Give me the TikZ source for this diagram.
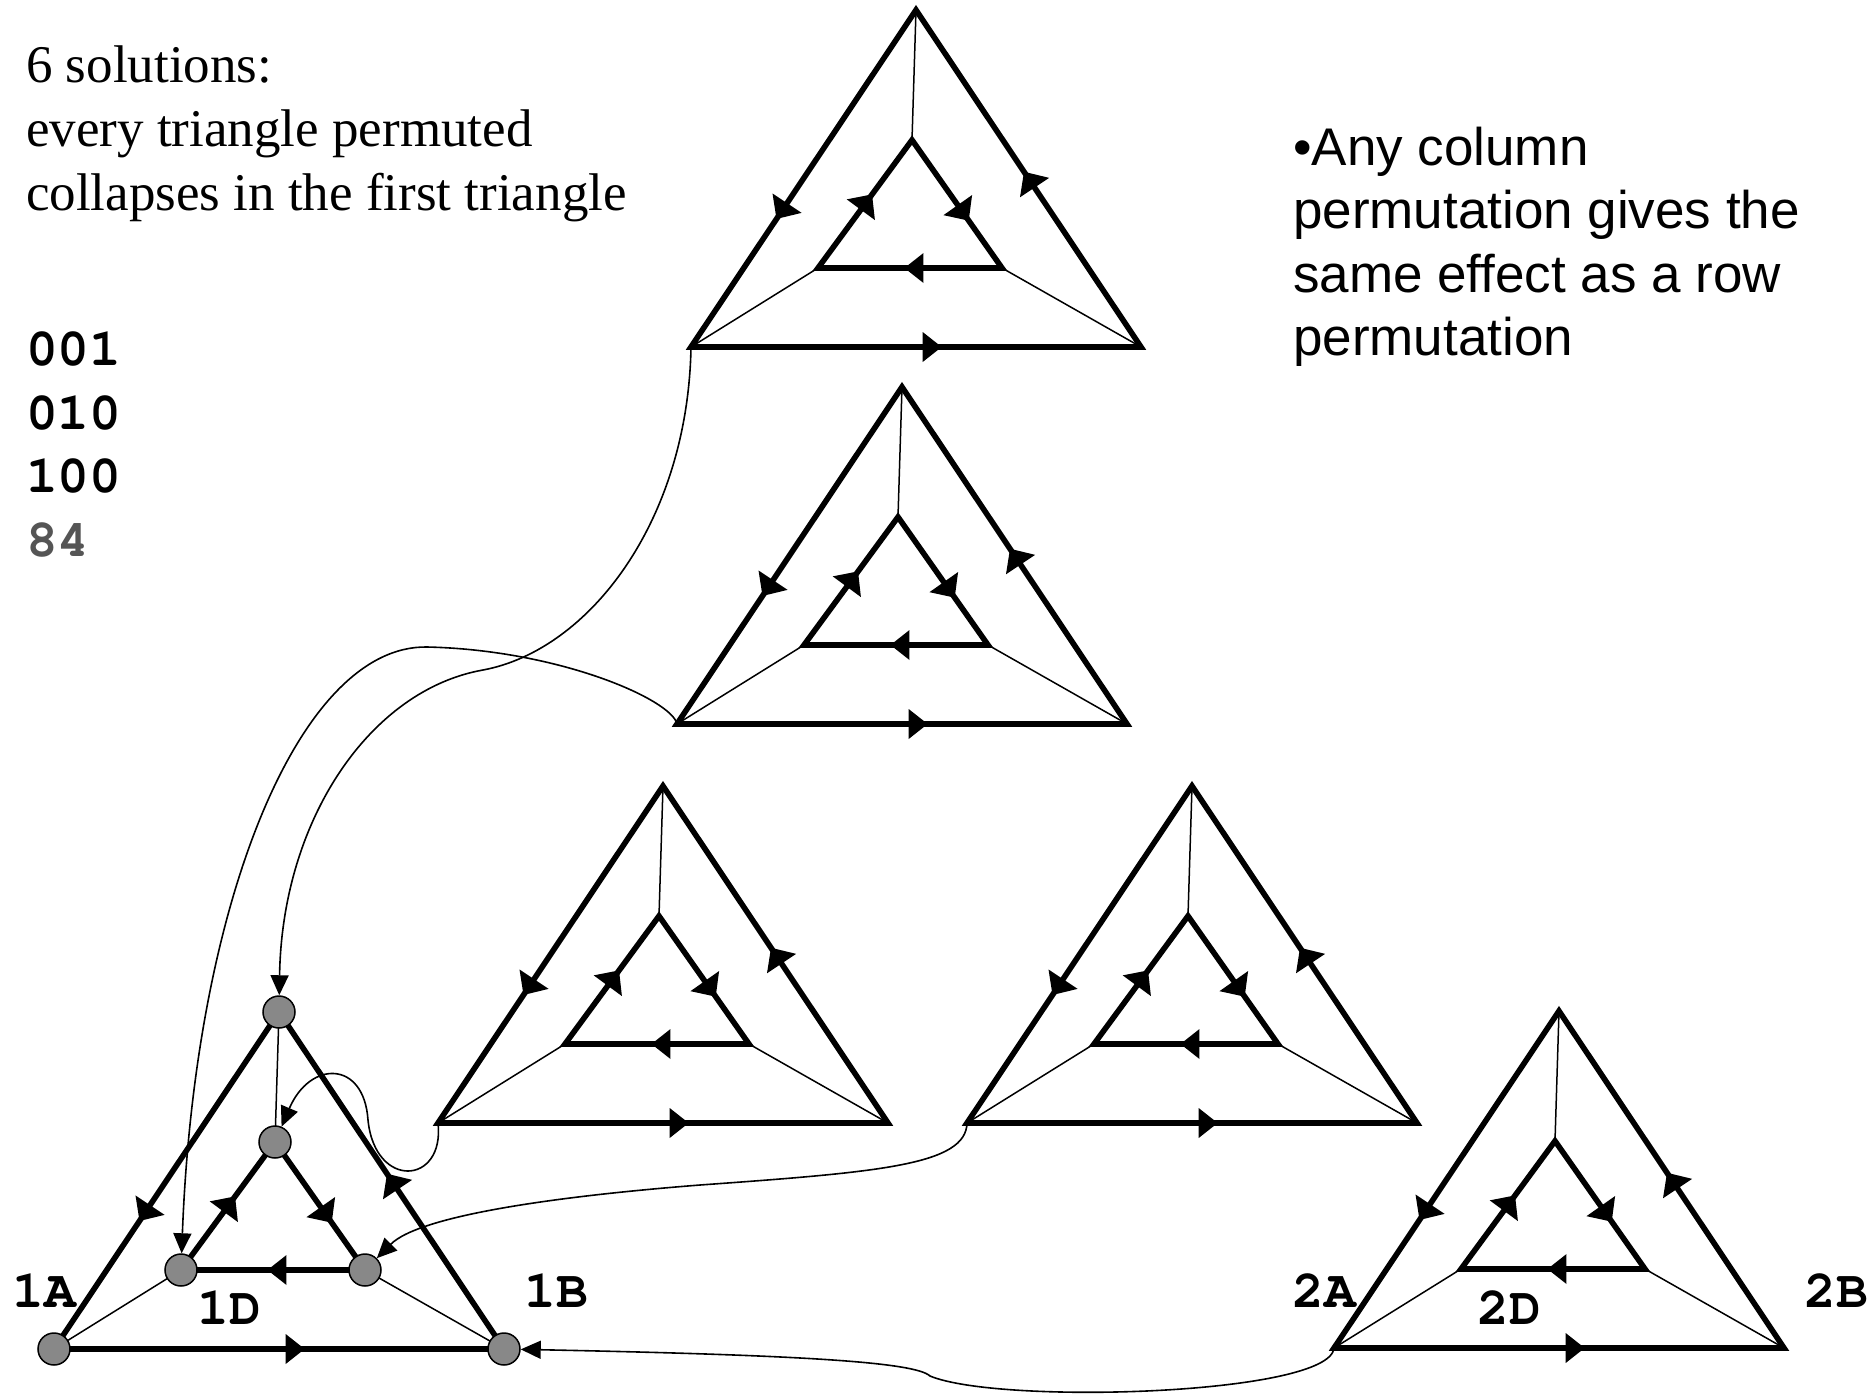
\documentclass[tikz,border=0pt]{standalone}
\usepackage[T1]{fontenc}
\usepackage{fontspec}
\setmainfont{Liberation Serif}
\newfontfamily\sansfont{Liberation Sans}
\newcommand\monob{\fontencoding{T1}\fontfamily{pcr}\fontseries{b}\fontshape{n}\selectfont}
\usetikzlibrary{arrows.meta,calc}

\definecolor{vtxgray}{RGB}{136,136,136}
\definecolor{numgray}{RGB}{85,85,85}

\tikzset{
  heavy/.style={line width=5.6pt, line join=miter, miter limit=10},
  spoke/.style={line width=1.5pt},
  link/.style={line width=1.6pt, -{Triangle[length=20pt,width=18pt]}},
  vtx/.style={circle, draw, line width=1.5pt, fill=vtxgray, minimum size=32pt, inner sep=0pt},
  serifline/.style={anchor=base west, inner sep=0pt, font=\fontsize{53}{64}\selectfont},
  sansline/.style={anchor=base west, inner sep=0pt, font=\fontsize{53}{64}\sansfont},
  monoline/.style={anchor=base west, inner sep=0pt, font=\fontsize{53}{64}\monob},
  vlabel/.style={inner sep=0pt, font=\fontsize{53}{64}\monob},
}

% filled arrowhead on the edge #1 -> #2, its tip at fraction #3 of the edge,
% 19pt long and 2*#4 wide
\newcommand\edgetip[4]{%
  \coordinate (tipP) at ($(#1)!#3!(#2)$);
  \coordinate (tipB) at ($(tipP)!19pt!(#1)$);
  \fill (tipP) -- ($(tipB)!#4!90:(tipP)$) -- ($(tipB)!#4!-90:(tipP)$) -- cycle;
}

% One directed double triangle; #1 = name prefix, (#2,#3) = outer apex
\newcommand\permtri[3]{%
  \coordinate (#1A) at (#2,#3);
  \coordinate (#1L) at ({#2-225},{#3+337});
  \coordinate (#1R) at ({#2+225},{#3+337});
  \coordinate (#1a) at ({#2-4},{#3+130});
  \coordinate (#1l) at ({#2-98},{#3+258});
  \coordinate (#1r) at ({#2+86},{#3+258});
  \draw[spoke] (#1A) -- (#1a) (#1L) -- (#1l) (#1R) -- (#1r);
  \draw[heavy] (#1A) -- (#1L) -- (#1R) -- cycle;
  \draw[heavy] (#1a) -- (#1l) -- (#1r) -- cycle;
  \edgetip{#1A}{#1L}{0.62}{17.5pt}
  \edgetip{#1L}{#1R}{0.557}{15pt}
  \edgetip{#1R}{#1A}{0.52}{17.5pt}
  \edgetip{#1l}{#1a}{0.575}{17.5pt}
  \edgetip{#1a}{#1r}{0.63}{17.5pt}
  \edgetip{#1r}{#1l}{0.53}{15pt}
}

\begin{document}
\begin{tikzpicture}[x=1pt,y=-1pt]
\useasboundingbox (0,0) rectangle (1869,1398);
\fill[white] (0,0) rectangle (1869,1398);

% the six triangles
\permtri{ta}{916}{10}
\permtri{tb}{902}{387}
\permtri{tc}{663}{786}
\permtri{td}{1192}{786}
\permtri{te}{1559}{1011}
\permtri{tf}{279}{1012}

% vertices of the first triangle
\node[vtx] (n1A) at (tfA) {};
\node[vtx] (n1L) at (tfL) {};
\node[vtx] (n1R) at (tfR) {};
\node[vtx] (n1a) at (tfa) {};
\node[vtx] (n1l) at (tfl) {};
\node[vtx] (n1r) at (tfr) {};

% collapse of each permuted triangle onto the first one
\draw[link] (taL) .. controls (688,520) and (590,650) .. (483,670)
                  .. controls (370,690) and (282,820) .. (n1A);
\draw[link] (tbL) .. controls (672,700) and (560,650) .. (427,647)
                  .. controls (300,645) and (195,900) .. (n1l);
\draw[link] (tcL) .. controls (445,1185) and (375,1190) .. (368,1120)
                  .. controls (364,1060) and (310,1060) .. (n1a);
\draw[link] (tdL) .. controls (966,1165) and (880,1172) .. (700,1185)
                  .. controls (560,1196) and (420,1215) .. (n1r);
\draw[link] (teL) .. controls (1330,1395) and (1000,1405) .. (930,1376)
                  .. controls (915,1362) and (800,1355) .. (n1R);

% vertex labels
\node[vlabel] (lab1A) at (44,1291) {1A};
\node[vlabel] (lab1D) at (229,1308) {1D};
\node[vlabel] (lab1B) at (556,1291) {1B};
\node[vlabel] (lab2A) at (1324,1291) {2A};
\node[vlabel] (lab2D) at (1509,1308) {2D};
\node[vlabel] (lab2B) at (1836,1291) {2B};

% heading
\node[serifline] (head1) at (26,82)  {6 solutions:};
\node[serifline] (head2) at (26,146) {every triangle permuted};
\node[serifline] (head3) at (26,210) {collapses in the first triangle};

% rows
\node[monoline] (row1) at (26,365) {001};
\node[monoline] (row2) at (26,429) {010};
\node[monoline] (row3) at (26,492) {100};
\node[monoline, text=numgray] (row4) at (26,556) {84};

% remark
\node[sansline] (note1) at (1293,165) {•Any column};
\node[sansline] (note2) at (1293,228) {permutation gives the};
\node[sansline] (note3) at (1293,292) {same effect as a row};
\node[sansline] (note4) at (1293,355) {permutation};
\end{tikzpicture}
\end{document}
